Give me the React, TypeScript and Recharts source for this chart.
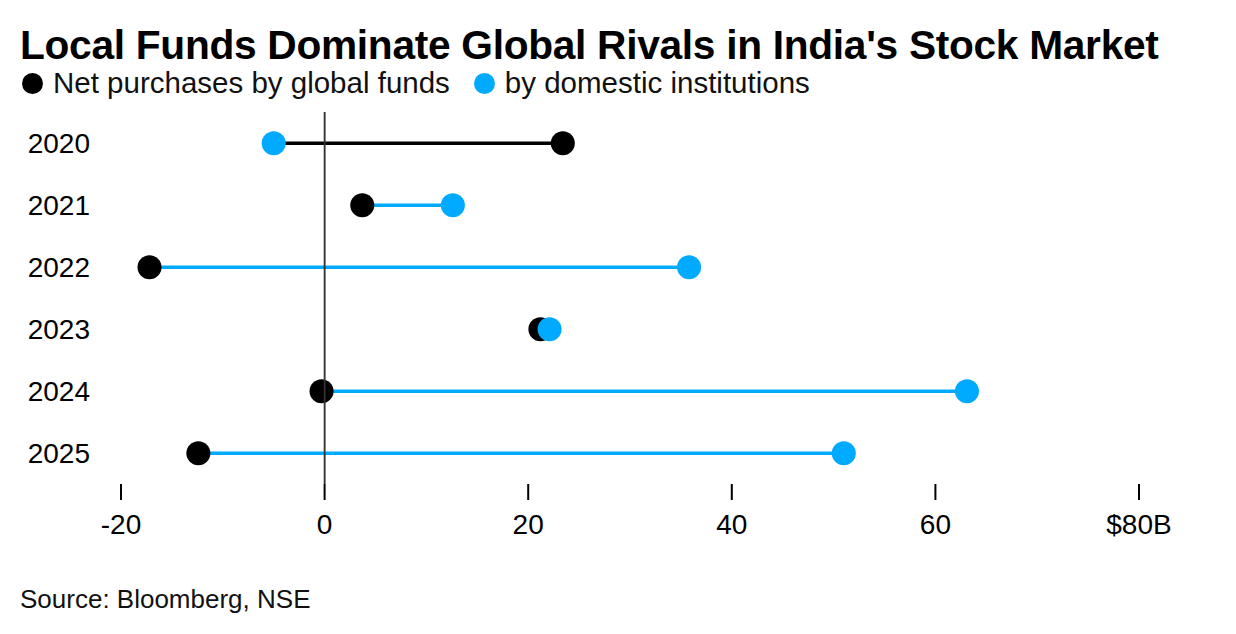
import React from "react";
import { ComposedChart, Bar, XAxis, YAxis, ReferenceLine } from "recharts";

const years = ["2020", "2021", "2022", "2023", "2024", "2025"];
const globalFunds = [23.4, 3.7, -17.2, 21.2, -0.3, -12.4];
const domestic = [-5.0, 12.6, 35.8, 22.1, 63.1, 51.0];
const xTicks = [-20, 0, 20, 40, 60, 80];

const BLUE = "#00aaff";
const data = years.map((y, i) => ({
  year: y,
  g: globalFunds[i],
  d: domestic[i],
  range: [Math.min(globalFunds[i], domestic[i]), Math.max(globalFunds[i], domestic[i])],
}));

const Shape = (props: any) => {
  const { x, y, width, height, payload } = props;
  const cy = y + height / 2;
  const gLow = payload.g < payload.d;
  const gx = gLow ? x : x + width;
  const dx = gLow ? x + width : x;
  const col = payload.d > payload.g ? BLUE : "#000";
  return (
    <g>
      <line x1={x} x2={x + width} y1={cy} y2={cy} stroke={col} strokeWidth={3.5} />
      <circle cx={gx} cy={cy} r={12} fill="#000" />
      <circle cx={dx} cy={cy} r={12} fill={BLUE} />
    </g>
  );
};

export default function App() {
  const font = "'Liberation Sans', Arial, sans-serif";
  return (
    <div style={{ position: "absolute", left: 0, top: 0, width: 1236, height: 634, background: "#fff", fontFamily: font }}>
      <div style={{ position: "absolute", left: 20, top: 22, fontSize: 40.7, fontWeight: 700, color: "#000", letterSpacing: -0.3 }}>
        Local Funds Dominate Global Rivals in India's Stock Market
      </div>
      <div style={{ position: "absolute", left: 22, top: 66, fontSize: 29.5, color: "#111", display: "flex", alignItems: "center" }}>
        <span style={{ display: "inline-block", width: 21, height: 21, borderRadius: 11, background: "#000", marginRight: 10 }} />
        Net purchases by global funds
        <span style={{ display: "inline-block", width: 21, height: 21, borderRadius: 11, background: BLUE, marginLeft: 24, marginRight: 10 }} />
        by domestic institutions
      </div>
      <div style={{ position: "absolute", left: 20, top: 584, fontSize: 26, color: "#111" }}>Source: Bloomberg, NSE</div>
      <div style={{ position: "absolute", left: 0, top: 0 }}>
        <ComposedChart width={1236} height={634} layout="vertical" data={data} margin={{ top: 112, right: 97, bottom: 120, left: 0 }}>
          <XAxis type="number" domain={[-20, 80]} ticks={xTicks} axisLine={false} tickSize={16} height={30}
            tickLine={{ stroke: "#000", strokeWidth: 2 }} tickMargin={14}
            tick={{ fill: "#000", fontSize: 28, fontFamily: font }}
            tickFormatter={(v: number) => (v === 80 ? "$80B" : String(v))} />
          <YAxis type="category" dataKey="year" width={121} axisLine={false} tickLine={false} tickSize={0} tickMargin={31}
            tick={{ fill: "#000", fontSize: 28, fontFamily: font }} />
          <ReferenceLine x={0} stroke="#333" strokeWidth={1.5} segment={[{ x: 0, y: "2020" }, { x: 0, y: "2025" }]} />
          <ReferenceLine x={0} stroke="#333" strokeWidth={1.5} />
          <Bar dataKey="range" shape={Shape} isAnimationActive={false} />
        </ComposedChart>
      </div>
    </div>
  );
}
